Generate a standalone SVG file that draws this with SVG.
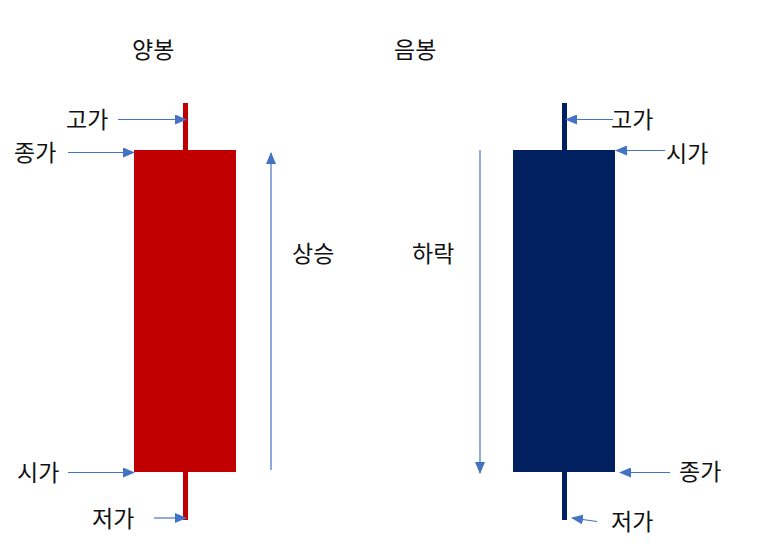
<svg xmlns="http://www.w3.org/2000/svg" width="768" height="549" viewBox="0 0 768 549">
<style>
text{font-family:"Noto Sans CJK KR","Noto Sans",sans-serif;font-size:23px;fill:#111}
.c{stroke:#4472C4;stroke-width:1.2;fill:none;marker-end:url(#ah)}
</style>
<defs>
<marker id="ah" markerUnits="userSpaceOnUse" markerWidth="12" markerHeight="10" viewBox="0 0 12 10" refX="11" refY="5" orient="auto">
<path d="M0,0 L12,5 L0,10 Z" fill="#4472C4"/>
</marker>
</defs>
<rect width="768" height="549" fill="#fff"/>
<g id="yang">
<rect x="183" y="103" width="5" height="417" fill="#C00000"/>
<rect x="134" y="150" width="102" height="322" fill="#C00000"/>
</g>
<g id="eum">
<rect x="562" y="103" width="5" height="417" fill="#002060"/>
<rect x="513" y="150" width="102" height="322" fill="#002060"/>
</g>
<g id="connectors">
<line class="c" x1="118" y1="119.5" x2="186" y2="119.5"/>
<line class="c" x1="68" y1="152.5" x2="134" y2="152.5"/>
<line class="c" x1="68" y1="472.5" x2="134" y2="472.5"/>
<line class="c" x1="154" y1="518" x2="186" y2="518"/>
<line class="c" x1="271" y1="470" x2="271" y2="153"/>
<line class="c" x1="613" y1="119.5" x2="566" y2="119.5"/>
<line class="c" x1="665" y1="150.5" x2="616" y2="150.5"/>
<line class="c" x1="480" y1="150" x2="480" y2="473"/>
<line class="c" x1="670" y1="472.5" x2="620" y2="472.5"/>
<line class="c" x1="597" y1="521.5" x2="572" y2="518"/>
</g>
<g id="labels">
<text x="132" y="58">양봉</text>
<text x="394" y="58">음봉</text>
<text x="66" y="128">고가</text>
<text x="14" y="161">종가</text>
<text x="17" y="481">시가</text>
<text x="92" y="527">저가</text>
<text x="292" y="262">상승</text>
<text x="412" y="262">하락</text>
<text x="611" y="128">고가</text>
<text x="666" y="162">시가</text>
<text x="679" y="480">종가</text>
<text x="611" y="530">저가</text>
</g>
</svg>
